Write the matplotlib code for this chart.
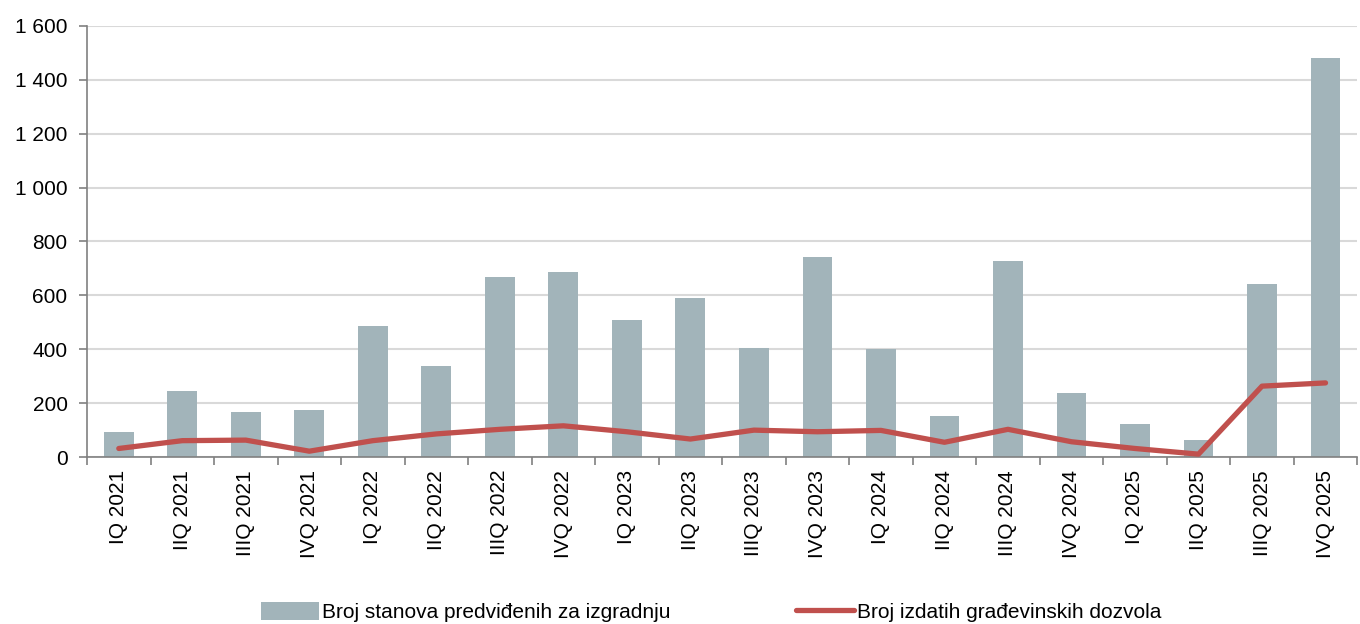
import matplotlib.pyplot as plt
import numpy as np
from matplotlib.ticker import FuncFormatter, FixedLocator

plt.rcParams['font.family'] = ['Liberation Sans', 'DejaVu Sans']

quarters = ["IQ 2021", "IIQ 2021", "IIIQ 2021", "IVQ 2021",
            "IQ 2022", "IIQ 2022", "IIIQ 2022", "IVQ 2022",
            "IQ 2023", "IIQ 2023", "IIIQ 2023", "IVQ 2023",
            "IQ 2024", "IIQ 2024", "IIIQ 2024", "IVQ 2024",
            "IQ 2025", "IIQ 2025", "IIIQ 2025", "IVQ 2025"]

# broj stanova predvidjenih za izgradnju (bars)
stanovi = [93, 245, 167, 174, 486, 340, 669, 688, 509, 589,
           404, 744, 403, 154, 726, 239, 122, 64, 642, 1480]

# broj izdatih gradjevinskih dozvola (line)
dozvole = [33, 62, 64, 23, 62, 87, 104, 117, 95, 68,
           101, 95, 100, 56, 104, 58, 33, 12, 264, 276]

bar_color = '#A2B4BA'
line_color = '#C0504D'

fig = plt.figure(figsize=(13.6, 6.24), dpi=100)
ax = fig.add_axes([0.064, 0.267, 0.934, 0.692])

x = np.arange(len(quarters))
bars = ax.bar(x, stanovi, width=0.47, color=bar_color, zorder=2,
              label='Broj stanova predviđenih za izgradnju')
line, = ax.plot(x, dozvole, color=line_color, linewidth=3.8, solid_capstyle='round',
                solid_joinstyle='round', zorder=3, label='Broj izdatih građevinskih dozvola')

ax.set_xlim(-0.5, len(quarters) - 0.5)
ax.set_ylim(0, 1600)
ax.set_yticks(range(0, 1601, 200))
ax.yaxis.set_major_formatter(FuncFormatter(lambda v, p: f"{int(v):,}".replace(",", " ")))

ax.set_xticks(x)
ax.set_xticklabels(quarters, rotation=90, fontsize=15)
ax.tick_params(axis='x', which='major', length=0, pad=9)
ax.xaxis.set_minor_locator(FixedLocator(np.arange(-0.5, len(quarters), 1)))
ax.tick_params(axis='x', which='minor', length=6, width=1.2, color='#808080')
ax.tick_params(axis='y', labelsize=15, length=6, width=1.2, color='#808080', pad=8)

ax.grid(axis='y', color='#D9D9D9', linewidth=1.5, zorder=0)
ax.set_axisbelow(True)

for s in ['top', 'right']:
    ax.spines[s].set_visible(False)
for s in ['left', 'bottom']:
    ax.spines[s].set_color('#808080')
    ax.spines[s].set_linewidth(1.2)

fig.legend(handles=[bars, line], loc='center', bbox_to_anchor=(0.523, 0.019), ncol=2,
           frameon=False, fontsize=15, handlelength=2.8, handletextpad=0.15,
           columnspacing=6.0, handleheight=0.9)

fig.savefig('out.png', dpi=100)
